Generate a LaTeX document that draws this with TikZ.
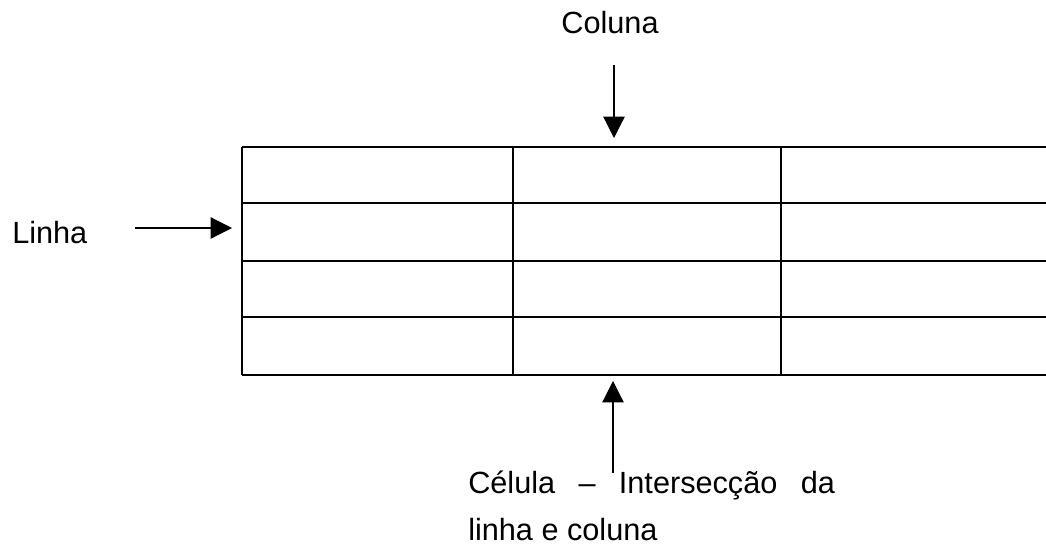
\documentclass[tikz,border=0pt]{standalone}
\usepackage{fontspec}
\setmainfont{Liberation Sans}
\usetikzlibrary{arrows.meta}
\begin{document}
\begin{tikzpicture}[x=0.75pt,y=-0.75pt,
  grid/.style={line width=1.5pt},
  pointer/.style={line width=0.9pt,-{Triangle[length=16pt,width=16pt]}},
  lbl/.style={inner sep=0pt,font=\fontsize{23pt}{27pt}\selectfont}]
\useasboundingbox (0,0) rectangle (1046,554);
% table
\foreach \y in {147,203,261,317,375} \draw[grid] (242,\y) -- (1046,\y);
\foreach \x in {242,513,781} \draw[grid] (\x,147) -- (\x,375);
\coordinate (top) at (614,138);
\coordinate (left) at (232,228);
\coordinate (bottom) at (613,381);
% labels
\node[lbl,anchor=base] (col) at (610,33) {Coluna};
\node[lbl,anchor=base west] (lin) at (12,243) {Linha};
\node[lbl,anchor=base west] (cel1) at (468,493) {\makebox[275pt][s]{Célula – Intersecção da}};
\node[lbl,anchor=base west] (cel2) at (468,540) {linha e coluna};
\coordinate (ts) at (614,65);
\coordinate (ls) at (135,228);
\coordinate (bs) at (613,473);
\draw[pointer] (ts) -- (top);
\draw[pointer] (ls) -- (left);
\draw[pointer] (bs) -- (bottom);
\end{tikzpicture}
\end{document}
